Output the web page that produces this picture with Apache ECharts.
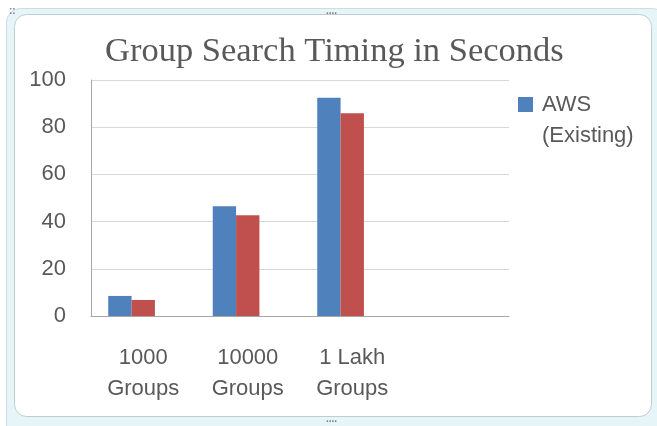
<!DOCTYPE html>
<html>
<head>
<meta charset="utf-8">
<script src="https://cdn.jsdelivr.net/npm/echarts@6/dist/echarts.min.js"></script>
<style>
  html, body { margin: 0; padding: 0; background: #fff; }
  #main { width: 657px; height: 426px; }
</style>
</head>
<body>
<div id="main"></div>
<script>
// data
var categories = ['1000\nGroups', '10000\nGroups', '1 Lakh\nGroups', ''];
var awsExisting = [8.5, 46.5, 92.5, null];
var secondSeries = [6.8, 42.7, 85.9, null];
var thirdSeries = [null, null, null, null]; // empty series, only keeps its slot
var yTicks = { min: 0, max: 100, interval: 20 };

var labelColor = '#595959';
var sansFont = '"Liberation Sans", Arial, sans-serif';

var myChart = echarts.init(document.getElementById('main'));

var option = {
    backgroundColor: '#ffffff',
    animation: false,
    title: {
        text: 'Group Search Timing in Seconds',
        left: 105,
        top: 34,
        padding: 0,
        textStyle: {
            fontFamily: '"Liberation Serif", "Times New Roman", serif',
            fontSize: 34.5,
            fontWeight: 'normal',
            color: labelColor
        }
    },
    legend: {
        data: ['AWS (Existing)'],
        orient: 'vertical',
        left: 518,
        top: 58,
        padding: 0,
        icon: 'rect',
        itemWidth: 15,
        itemHeight: 15,
        formatter: function () { return '\nAWS\n(Existing)'; },
        textStyle: {
            fontFamily: sansFont,
            fontSize: 22,
            lineHeight: 31,
            color: labelColor,
            padding: [0, 0, 0, 4]
        }
    },
    grid: { left: 91, right: 148, top: 80, bottom: 110 },
    xAxis: {
        type: 'category',
        data: categories,
        axisLine: { lineStyle: { color: '#a6a6a6', width: 1 } },
        axisTick: { show: false },
        axisLabel: {
            interval: 0,
            margin: 26,
            fontFamily: sansFont,
            fontSize: 22,
            lineHeight: 31,
            color: labelColor
        }
    },
    yAxis: {
        type: 'value',
        min: yTicks.min,
        max: yTicks.max,
        interval: yTicks.interval,
        axisLine: { show: true, lineStyle: { color: '#a6a6a6', width: 1 } },
        axisTick: { show: false },
        splitLine: { lineStyle: { color: '#d9d9d9', width: 1 } },
        axisLabel: {
            margin: 25,
            fontFamily: sansFont,
            fontSize: 22,
            color: labelColor
        }
    },
    series: [
        {
            name: 'AWS (Existing)',
            type: 'bar',
            data: awsExisting,
            barGap: '0%',
            barCategoryGap: '33%',
            itemStyle: { color: '#4F81BD' }
        },
        {
            name: 'Series 2',
            type: 'bar',
            data: secondSeries,
            itemStyle: { color: '#C0504D' }
        },
        {
            name: 'Series 3',
            type: 'bar',
            data: thirdSeries,
            itemStyle: { color: '#9BBB59' }
        }
    ],
    graphic: [
        // selection frame around the chart
        {
            type: 'rect', z: -10, silent: true,
            shape: { x: 6.5, y: 8.5, width: 660, height: 430, r: 14 },
            style: { fill: '#e6f5f8', stroke: '#cfdbde', lineWidth: 1 }
        },
        {
            type: 'rect', z: -9, silent: true,
            shape: { x: 14.5, y: 14.5, width: 637, height: 402, r: 12 },
            style: { fill: '#ffffff', stroke: '#c2ccd0', lineWidth: 1 }
        },
        {
            type: 'text', z: -8, silent: true, left: 326, top: 6,
            style: { text: '....', fill: '#7f7f7f', font: 'bold 10px sans-serif' }
        },
        {
            type: 'text', z: -8, silent: true, left: 326, top: 414,
            style: { text: '....', fill: '#7f7f7f', font: 'bold 10px sans-serif' }
        },
        {
            type: 'text', z: -8, silent: true, left: 9, top: 6,
            style: { text: '::', fill: '#7f7f7f', font: 'bold 10px sans-serif' }
        }
    ]
};

myChart.setOption(option);
</script>
</body>
</html>
